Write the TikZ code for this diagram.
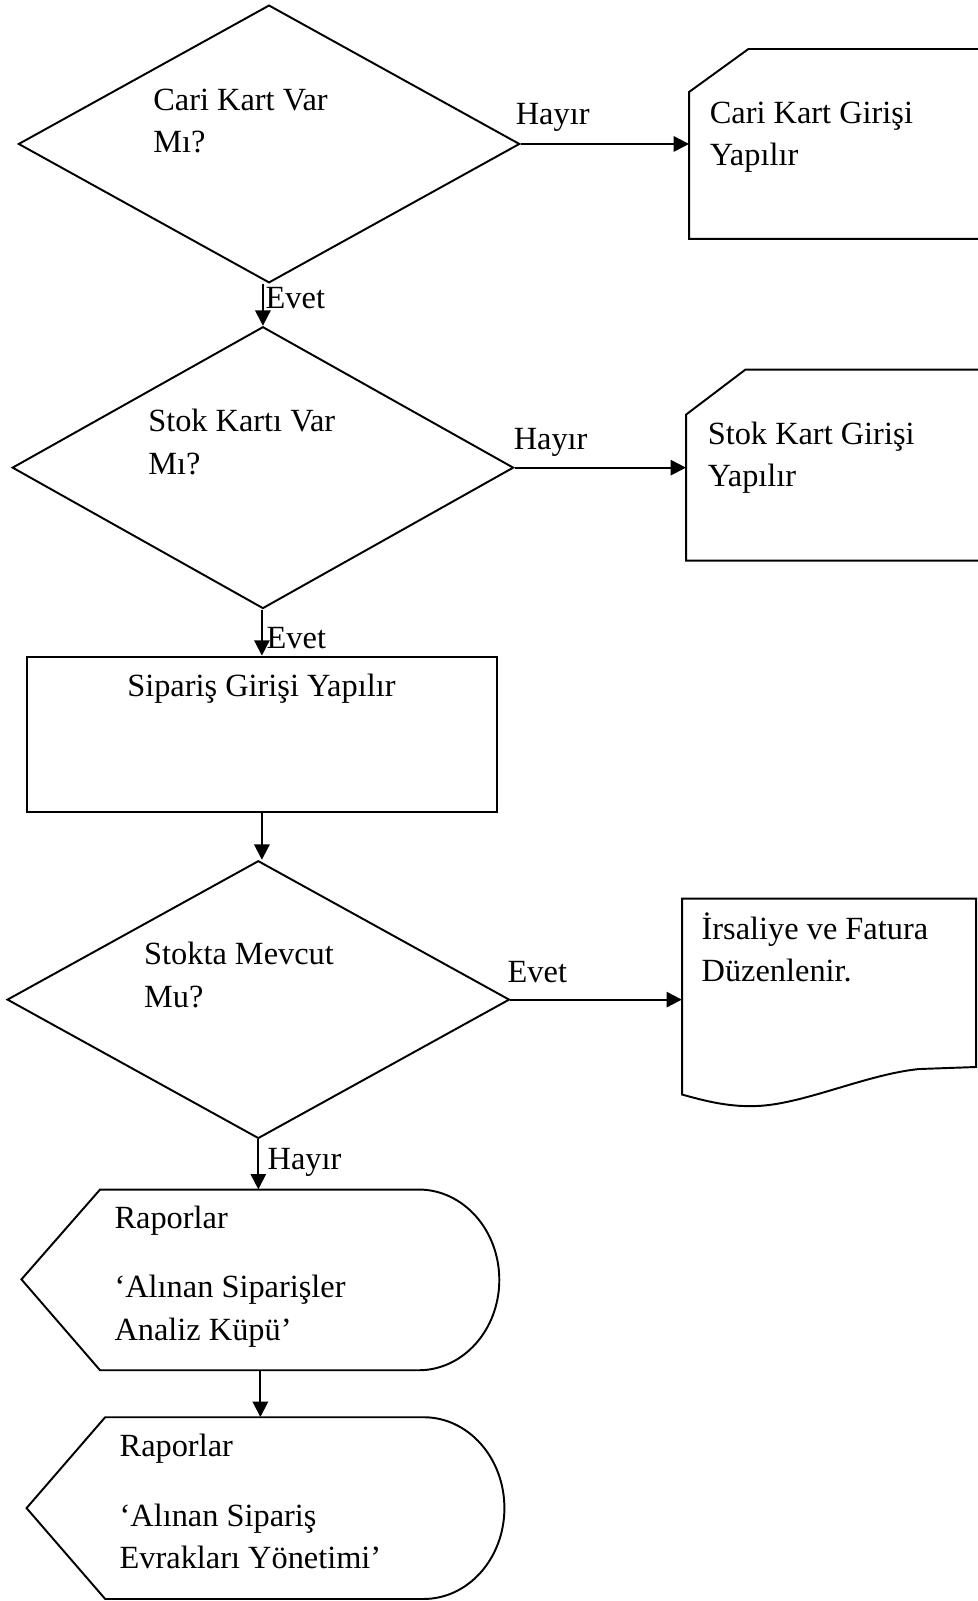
\documentclass[tikz,border=0pt]{standalone}
\usepackage{fontspec}
\setmainfont{Liberation Serif}
\usetikzlibrary{arrows.meta,shapes.geometric}
\newcommand\twolines[2]{\begin{tabular}[t]{@{}l@{}}#1\\#2\end{tabular}}
\begin{document}
\begin{tikzpicture}[x=1pt,y=-1pt,
  shp/.style={draw=black,line width=1.9pt,line join=miter},
  dec/.style={shape=diamond,draw=black,line width=1.9pt,inner sep=0pt},
  arr/.style={draw=black,line width=1.9pt,-{Triangle[length=15pt,width=15pt]}},
  txt/.style={inner sep=0pt,font=\fontsize{31.7}{41.5}\selectfont,anchor=base west},
  area/.style={inner sep=0pt,draw=none}]
\useasboundingbox[fill=white] (0,0) rectangle (957,1568);

% decisions
\node[dec,minimum width=491pt,minimum height=272pt] (d1) at (263.5,141) {};
\node[dec,minimum width=491pt,minimum height=276pt] (d2) at (257.5,458) {};
\node[dec,minimum width=492pt,minimum height=272pt] (d3) at (253,979) {};
\node[txt] (d1t) at (150,108) {\twolines{Cari Kart Var}{Mı?}};
\node[txt] (d2t) at (145,423) {\twolines{Stok Kartı Var}{Mı?}};
\node[txt] (d3t) at (141,945) {\twolines{Stokta Mevcut}{Mu?}};

% cards
\node[area,minimum width=295pt,minimum height=186pt] (c1) at (822.5,141) {};
\node[area,minimum width=298pt,minimum height=187pt] (c2) at (821,455.5) {};
\draw[shp] (970,48) -- (733,48) -- (675,90) -- (675,234) -- (970,234);
\draw[shp] (970,362) -- (730,362) -- (672,406) -- (672,549) -- (970,549);
\node[txt] (c1t) at (695,121) {\twolines{Cari Kart Girişi}{Yapılır}};
\node[txt] (c2t) at (693,435) {\twolines{Stok Kart Girişi}{Yapılır}};

% process
\node[shp,minimum width=461pt,minimum height=152pt,inner sep=0pt] (r1) at (256.5,719) {};
\node[txt,anchor=base] (r1t) at (256,682) {Sipariş Girişi Yapılır};

% document
\node[area,minimum width=287pt,minimum height=203pt] (doc) at (811.5,981.5) {};
\draw[shp] (668,880) -- (956,880) -- (956,1045) -- (900,1047)
  .. controls (850,1052) and (790,1080) .. (745,1083)
  .. controls (715,1085) and (690,1078) .. (668,1072) -- cycle;
\node[txt] (doct) at (687,920) {\twolines{İrsaliye ve Fatura}{Düzenlenir.}};

% displays
\node[area,minimum width=468pt,minimum height=177pt] (p1) at (255,1253.5) {};
\node[area,minimum width=468pt,minimum height=178pt] (p2) at (260,1477) {};
\draw[shp] (21,1253) -- (98,1165) -- (410,1165)
  arc[start angle=90,end angle=-90,x radius=79pt,y radius=88.5pt]
  -- (98,1342) -- cycle;
\draw[shp] (26,1477) -- (103,1388) -- (415,1388)
  arc[start angle=90,end angle=-90,x radius=79pt,y radius=89pt]
  -- (103,1566) -- cycle;
\node[txt] (p1a) at (112,1203) {Raporlar};
\node[txt] (p1b) at (112,1271) {\twolines{‘Alınan Siparişler}{Analiz Küpü’}};
\node[txt] (p2a) at (117,1426) {Raporlar};
\node[txt] (p2b) at (117,1495) {\twolines{‘Alınan Sipariş}{Evrakları Yönetimi’}};

% connectors
\draw[arr] (d1.east) -- (d1.east -| c1.west);
\draw[arr] (d2.north |- d1.south) -- (d2.north);
\draw[arr] (d2.east) -- (d2.east -| c2.west);
\draw[arr] (r1.north |- d2.south) -- (r1.north);
\draw[arr] (r1.south) -- (r1.south |- d3.north);
\draw[arr] (d3.east) -- (d3.east -| doc.west);
\draw[arr] (d3.south) -- (d3.south |- p1.north);
\draw[arr] (p1.south) -- (p1.south |- p2.north);

% connector labels
\node[txt] (l1) at (505,122) {Hayır};
\node[txt] (l2) at (260,302) {Evet};
\node[txt] (l3) at (503,440) {Hayır};
\node[txt] (l4) at (261,635) {Evet};
\node[txt] (l5) at (497,962) {Evet};
\node[txt] (l6) at (262,1145) {Hayır};
\end{tikzpicture}
\end{document}
